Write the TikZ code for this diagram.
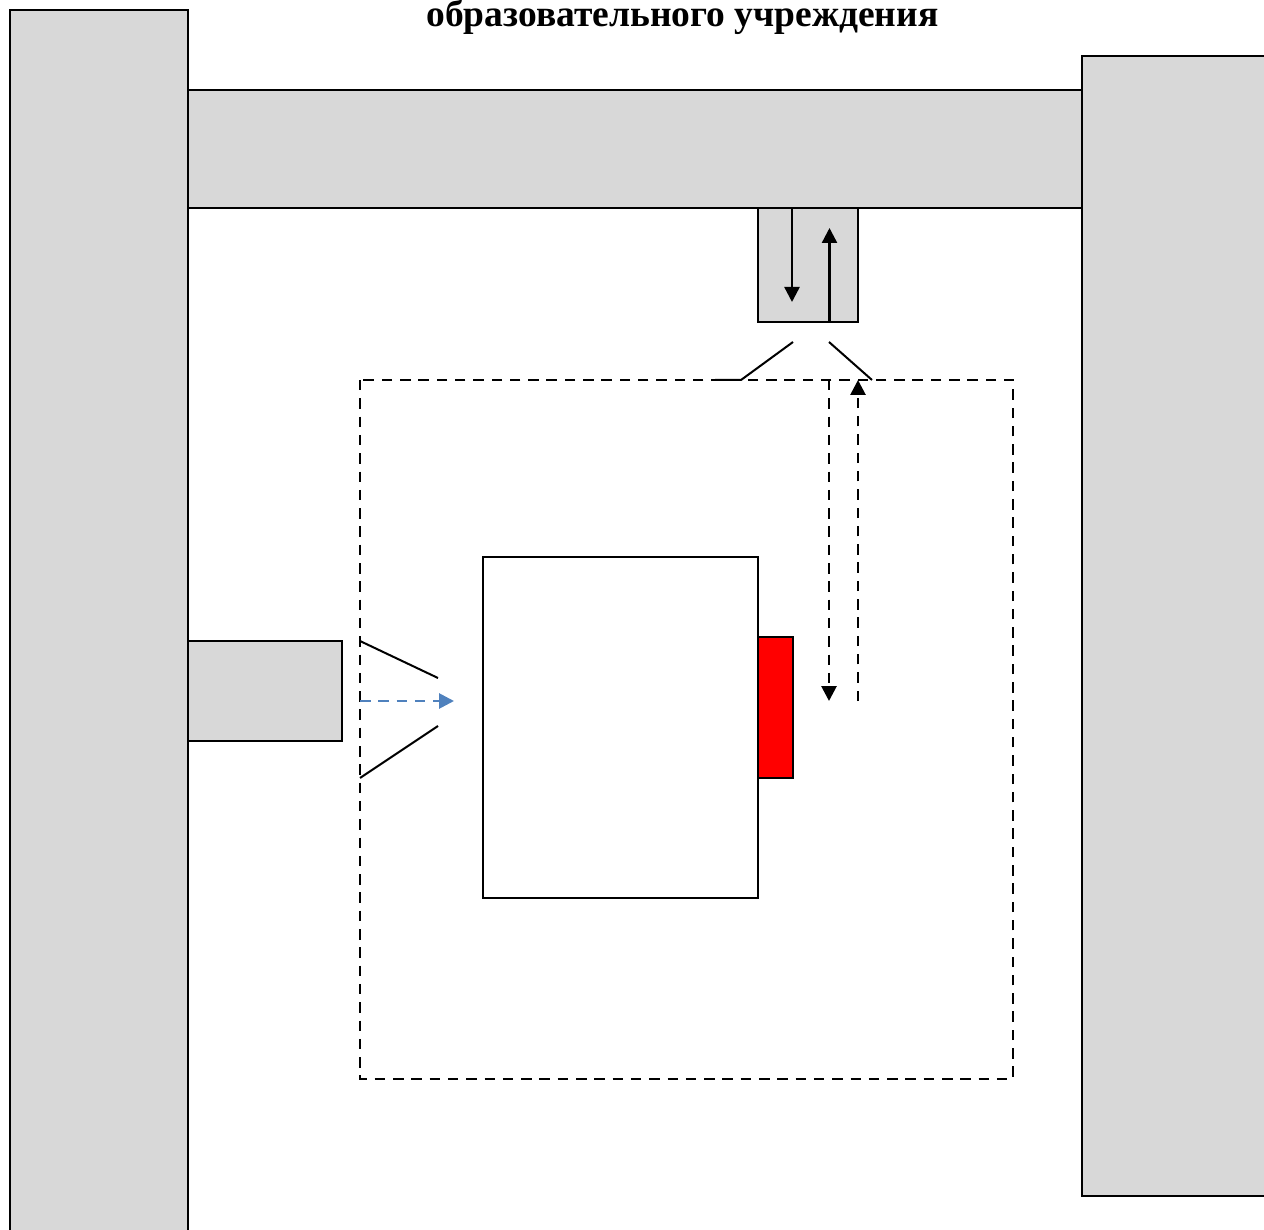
\documentclass[tikz,border=0pt]{standalone}
\usepackage{fontspec}
\setmainfont{Liberation Serif}
\usetikzlibrary{arrows.meta}

\definecolor{wallgray}{RGB}{216,216,216}
\definecolor{flowblue}{RGB}{79,129,189}

\tikzset{
    room/.style={draw=black, fill=wallgray},
    route/.style={-{Triangle[length=15pt, width=15pt]}, line width=2.4pt},
    zonedash/.style={line width=2.8pt, dash pattern=on 10.5pt off 7.8pt},
    routedash/.style={route, zonedash}
}

\begin{document}
\begin{tikzpicture}[x=1pt, y=-1pt, line width=2pt]
    \clip (0, 0) rectangle (1264, 1230);

    % walls and corridor
    \draw[room] (188, 90) rectangle (1082, 208);
    \draw[room] (10, 10) rectangle (188, 1250);
    \draw[room] (1082, 56) rectangle (1280, 1196);
    \draw[room] (758, 208) rectangle (858, 322);
    \draw[room] (188, 641) rectangle (342, 741);

    % zone
    \draw[zonedash] (360, 380) rectangle (1013, 1079);
    \draw[fill=white] (483, 557) rectangle (758, 898);
    \draw[fill=red] (758, 637) rectangle (793, 778);

    \coordinate (D1) at (792, 208);
    \coordinate (D2) at (792, 302);
    \coordinate (U1) at (829.5, 322);
    \coordinate (U2) at (829.5, 228);
    \coordinate (E1) at (829, 380);
    \coordinate (E2) at (829, 701);
    \coordinate (F1) at (858, 701);
    \coordinate (F2) at (858, 380);
    \coordinate (G1) at (360, 701);
    \coordinate (G2) at (454, 701);

    \draw[route] (D1) -- (D2);
    \draw[route] (U1) -- (U2);
    \draw[routedash] (E1) -- (E2);
    \draw[routedash] (F1) -- (F2);
    \draw[routedash, flowblue] (G1) -- (G2);

    % view lines
    \coordinate (V1) at (793, 342);
    \coordinate (V2) at (741, 380);
    \coordinate (V3) at (715, 380);
    \coordinate (V4) at (829, 342);
    \coordinate (V5) at (872, 380);
    \coordinate (W1) at (360, 641);
    \coordinate (W2) at (438, 678);
    \coordinate (W3) at (360, 778);
    \coordinate (W4) at (438, 726);

    \draw (V1) -- (V2) -- (V3);
    \draw (V4) -- (V5);
    \draw (W1) -- (W2);
    \draw (W3) -- (W4);

    \node[anchor=base, inner sep=0pt, font=\bfseries\fontsize{37.5}{37.5}\selectfont] (title) at (682.5, 27) {образовательного учреждения};
\end{tikzpicture}
\end{document}
